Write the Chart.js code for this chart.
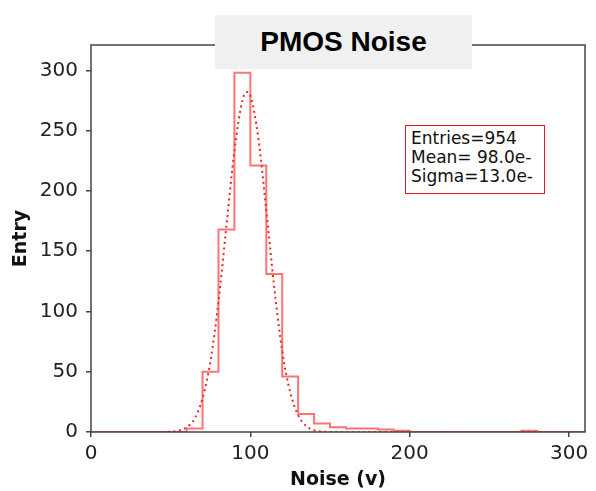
<!DOCTYPE html>
<html>
<head>
<meta charset="utf-8">
<script src="https://cdn.jsdelivr.net/npm/chart.js@4"></script>
<style>
  html, body { margin:0; padding:0; background:#fff; }
  #wrap { position:relative; width:596px; height:491px; }
  #title {
    position:absolute; left:215px; top:15px; width:257px; height:54px;
    background:#f0f0f0; font:bold 28px "Liberation Sans", Arial, sans-serif;
    color:#000; text-align:center; line-height:54px;
  }
  #stats {
    position:absolute; left:405px; top:125px;
    border:1.5px solid #e8191e; background:#fff;
    font:17px "DejaVu Sans", sans-serif; color:#111;
    line-height:19px; padding:3px 0 0 5px; box-sizing:content-box;
    width:133px; height:64px;
  }
</style>
</head>
<body>
<div id="wrap">
  <canvas id="chart" width="596" height="491"></canvas>
  <div id="title">PMOS Noise</div>
  <div id="stats">Entries=954<br>Mean= 98.0e-<br>Sigma=13.0e-</div>
</div>
<script>

// histogram: lower bin edges and counts (bin width 10)
const binLow   = [0, 60, 70, 80, 90, 100, 110, 120, 130, 140, 150, 160, 170, 180, 190, 200, 270, 280, 310];
const binCount = [0, 3, 50, 168, 298, 221, 131, 46, 15, 7, 4, 3, 3, 2, 1, 0, 1, 0, 0];

// gaussian fit curve
const fitX = [0, 40, 50, 55, 60, 65, 70, 75, 80, 85, 90, 95, 98, 100, 105, 110, 115, 120, 125, 130, 135, 140, 145, 150, 160, 310];
const fitY = [0, 0, 0.3, 1.2, 3.9, 11, 28, 59, 108, 171, 233, 275, 282, 279, 244, 184, 120, 67, 33, 14, 5, 1.5, 0.4, 0.1, 0, 0];

const xTicks = [0, 100, 200, 300];
const yTicks = [0, 50, 100, 150, 200, 250, 300];

const axisColor = '#444';

const framePlugin = {
  id:'frame',
  afterDraw(chart){
    const a = chart.chartArea;
    const ctx = chart.ctx;
    ctx.save();
    ctx.strokeStyle = axisColor;
    ctx.lineWidth = 1.5;
    ctx.strokeRect(a.left, a.top, a.right - a.left, a.bottom - a.top);
    ctx.restore();
  }
};

new Chart(document.getElementById('chart'), {
  type:'line',
  data:{
    datasets:[
      {
        data:binLow.map((x,i)=>({x:x, y:binCount[i]})),
        stepped:'before',
        borderColor:'rgba(255,40,40,0.65)',
        borderWidth:2,
        pointRadius:0,
        fill:false
      },
      {
        data:fitX.map((x,i)=>({x:x, y:fitY[i]})),
        borderColor:'rgba(230,0,0,0.85)',
        borderWidth:2,
        borderDash:[2,3.5],
        cubicInterpolationMode:'monotone',
        pointRadius:0,
        fill:false
      }
    ]
  },
  options:{
    responsive:false,
    animation:false,
    layout:{ padding:{ top:45, right:11, left:0, bottom:0 } },
    plugins:{ legend:{display:false}, tooltip:{enabled:false} },
    scales:{
      x:{
        type:'linear',
        min:0, max:310,
        afterBuildTicks:s=>{ s.ticks = xTicks.map(v=>({value:v})); },
        afterFit:s=>{ s.height = 59; },
        border:{ display:false },
        grid:{ drawOnChartArea:false, drawTicks:true, tickLength:5, color:axisColor, lineWidth:1.5 },
        ticks:{ color:'#222', font:{ family:'DejaVu Sans', size:20 }, padding:5, maxRotation:0 },
        title:{ display:true, text:'Noise (v)', color:'#111', font:{ family:'DejaVu Sans', size:19, weight:'bold' }, padding:{top:0, bottom:0} }
      },
      y:{
        min:0, max:321,
        afterBuildTicks:s=>{ s.ticks = yTicks.map(v=>({value:v})); },
        afterFit:s=>{ s.width = 91; },
        border:{ display:false },
        grid:{ drawOnChartArea:false, drawTicks:true, tickLength:5, color:axisColor, lineWidth:1.5 },
        ticks:{ color:'#222', font:{ family:'DejaVu Sans', size:20 }, padding:8 },
        title:{ display:true, text:'Entry', color:'#111', font:{ family:'DejaVu Sans', size:19, weight:'bold' }, padding:{top:10, bottom:0} }
      }
    }
  },
  plugins:[framePlugin]
});

</script>
</body>
</html>
